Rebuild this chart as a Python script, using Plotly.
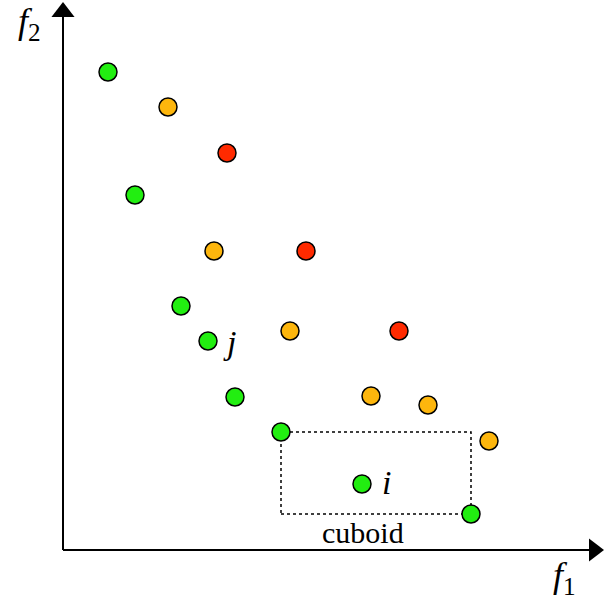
import plotly.graph_objects as go

# data coordinates (origin at axes corner)
green_x = [45, 72, 118, 145, 172, 218, 299, 408]
green_y = [478, 355, 244, 209, 153, 118, 66, 36]
orange_x = [105, 151, 227, 308, 365, 426]
orange_y = [443, 299, 219, 154, 145, 109]
red_x = [164, 243, 336]
red_y = [397, 299, 219]

cuboid_x = [218, 408]
cuboid_y = [36, 118]
i_point = (299, 66)
j_point = (145, 209)
x_end = 541
y_end = 548

fig = go.Figure()

def add_pts(xs, ys, color):
    fig.add_trace(go.Scatter(
        x=xs, y=ys, mode="markers",
        marker=dict(size=18, color=color, line=dict(color="black", width=1.5)),
        showlegend=False, hoverinfo="skip"))

fig.add_shape(type="rect", x0=cuboid_x[0], x1=cuboid_x[1], y0=cuboid_y[0], y1=cuboid_y[1],
              line=dict(color="black", width=1.5, dash="dot"), layer="below")

# axes lines
fig.add_shape(type="line", x0=0, y0=0, x1=x_end - 10, y1=0, line=dict(color="black", width=2))
fig.add_shape(type="line", x0=0, y0=0, x1=0, y1=y_end - 10, line=dict(color="black", width=2))
# arrowheads
fig.add_trace(go.Scatter(x=[x_end - 10], y=[0], mode="markers",
                         marker=dict(symbol="triangle-right", size=20, color="black"),
                         showlegend=False, hoverinfo="skip"))
fig.add_trace(go.Scatter(x=[0], y=[y_end - 10], mode="markers",
                         marker=dict(symbol="triangle-up", size=20, color="black"),
                         showlegend=False, hoverinfo="skip"))

add_pts(green_x, green_y, "#22ee11")
add_pts(orange_x, orange_y, "#fdb60d")
add_pts(red_x, red_y, "#ff2a00")

serif = "Times New Roman, Liberation Serif, DejaVu Serif, serif"

fig.add_annotation(x=-34, y=527, xref="x", yref="y", showarrow=False,
                   text="<i>f</i><sub>2</sub>", font=dict(family=serif, size=36, color="black"))
fig.add_annotation(x=501, y=-27, xref="x", yref="y", showarrow=False,
                   text="<i>f</i><sub>1</sub>", font=dict(family=serif, size=36, color="black"))
fig.add_annotation(x=j_point[0] + 21, y=j_point[1] - 1, xref="x", yref="y", showarrow=False,
                   text="<i>j</i>", font=dict(family=serif, size=34, color="black"))
fig.add_annotation(x=i_point[0] + 24, y=i_point[1] + 2, xref="x", yref="y", showarrow=False,
                   text="<i>i</i>", font=dict(family=serif, size=34, color="black"))
fig.add_annotation(x=300, y=18, xref="x", yref="y", showarrow=False,
                   text="cuboid", font=dict(family=serif, size=30, color="black"))

fig.update_layout(
    width=604, height=603, margin=dict(l=0, r=0, t=0, b=0),
    plot_bgcolor="white", paper_bgcolor="white",
    xaxis=dict(range=[-63, 541], visible=False, fixedrange=True),
    yaxis=dict(range=[-53, 550], visible=False, fixedrange=True),
)
fig.write_html("out.html")
